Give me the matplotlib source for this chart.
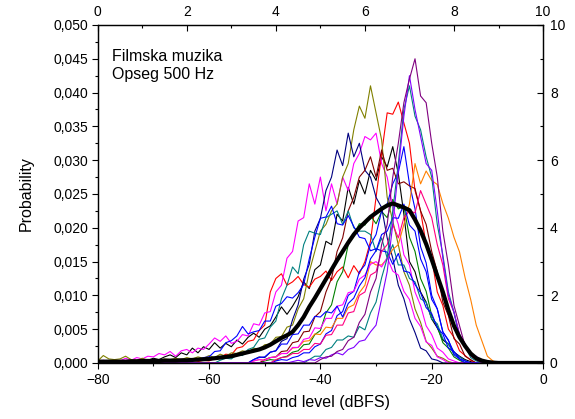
import numpy as np
import matplotlib
matplotlib.use("Agg")
import matplotlib.pyplot as plt
from matplotlib.ticker import FuncFormatter, MultipleLocator

plt.rcParams["font.family"] = ["Liberation Sans", "DejaVu Sans"]

# Sound level axis (dBFS) and per-curve probabilities, in units of 0.001,
# listed at 1 dB steps starting from the given level (zero elsewhere).
X_MIN, X_MAX = -80, 0

BLACK_START = -75
BLACK = [0.2, 0.4, 0.2, 0.5, 0.4, 0.7, 0.5, 0.9, 1.2, 0.8,
         1.5, 1.2, 2.2, 1.5, 2.4, 2.0, 3.0, 2.2, 2.9, 2.4,
         3.4, 2.8, 3.8, 4.4, 3.8, 5.0, 5.5, 6.8, 8.3, 7.2,
         8.4, 9.8, 12, 11, 13.8, 14.5, 18, 17.5, 22, 21,
         26, 23.5, 27, 25, 28.5, 27, 30.5, 29, 32, 28,
         22, 15, 13.5, 10.5, 9, 6.5, 5.2, 3.4, 2.8, 1.6,
         1.0, 0.5, 0.2]

RED_START = -62
RED = [0.2, 0.4, 0.3, 0.7, 0.8, 1.3, 1.2, 2.2, 2.4, 3.2,
       3.4, 4.8, 5.6, 10.5, 12.5, 13.2, 11.5, 12.0, 12.8, 11.6,
       11.2, 12.4, 12.8, 13.6, 12.2, 13.5, 14.2, 12.6, 14.4, 13.2,
       15.0, 18, 24.5, 31, 37, 36.8, 38.6, 35.5, 32.5, 25.5,
       22.5, 17.5, 15.5, 10.5, 8.5, 5, 3.8, 1.8, 1.1, 0.4]

GREEN_START = -50
GREEN = [0.3, 0.5, 0.4, 0.8, 1.0, 1.6, 1.8, 2.7, 2.8, 4.2,
         4.8, 7.4, 8.6, 12, 13.5, 17.5, 19, 20.6, 20.4, 21.8,
         20.6, 22.4, 21.5, 24.2, 22.8, 23.2, 18.6, 16.5, 12.5, 10.6,
         7, 5.4, 3, 2.2, 0.9, 0.4]

BLUE_START = -48
BLUE = [0.3, 0.5, 0.4, 0.8, 1.0, 1.5, 1.5, 2.4, 2.8, 4.3,
        4.8, 7.0, 7.6, 10, 10.6, 13.5, 14.5, 17.5, 19, 22.5,
        23.5, 26.5, 28.2, 32, 26.5, 22.8, 17.2, 14.8, 10, 8.0,
        4.6, 3.3, 1.6, 0.9, 0.3]

MAGENTA_START = -80
MAGENTA = [0.2, 0.4, 0.2, 0.5, 0.3, 0.7, 0.4, 0.8, 0.6, 1.0,
           0.9, 1.4, 1.2, 1.7, 1.0, 1.8, 2.0, 1.5, 2.2, 2.0,
           2.8, 3.7, 3.2, 4.0, 2.9, 3.2, 4.2, 4.0, 5.8, 5.6,
           7.4, 7.6, 10.5, 11.5, 15.5, 16.5, 21, 21.5, 26.5, 23.5,
           27.5, 22.5, 26.5, 23.5, 27.5, 25.5, 29.5, 31, 33.5, 33,
           34, 29.5, 27.5, 23, 20.5, 16, 14.5, 10.5, 8.5, 5.5,
           4.2, 2.2, 1.6, 0.6, 0.3]

OLIVE_START = -80
OLIVE = [0.3, 1.1, 0.6, 0.5, 0.6, 1.0, 0.5, 0.4, 0.7, 0.4,
         0.5, 0.4, 0.6, 0.5, 0.7, 0.5, 0.8, 0.6, 0.9, 0.7,
         1.1, 0.8, 1.3, 1.0, 1.5, 1.4, 1.8, 1.6, 2.2, 2.0,
         2.7, 2.8, 3.8, 3.9, 5.3, 5.6, 8, 9.5, 13.5, 16.5,
         19.5, 20.5, 22.5, 23.5, 27.5, 29.5, 34.5, 38, 36.2, 41,
         37, 33, 24.5, 21, 17.5, 13.5, 11.5, 8, 6, 3.2,
         2.2, 1.0, 0.7, 0.2]

NAVY_START = -52
NAVY = [0.5, 0.9, 0.8, 1.6, 1.8, 3.2, 3.6, 6.4, 8.6, 12.4,
        14.6, 19.5, 21.4, 25.5, 27.5, 31.5, 29.2, 34, 30.5, 32.5,
        28.5, 27.5, 24.5, 23, 18.5, 15.5, 11.5, 9.5, 6.5, 4.5,
        2.2, 1.8, 0.6, 0.4]

WINE_START = -50
WINE = [0.5, 0.8, 0.9, 1.7, 1.8, 3.0, 3.2, 4.6, 4.7, 6.8,
        7.6, 10.5, 12.5, 16.5, 18.5, 22.5, 24.5, 27.5, 28.5, 30.5,
        27.5, 31.5, 28.5, 28.8, 26.5, 26.8, 26.2, 25.8, 22.5, 20.5,
        16.5, 13.5, 9, 7, 3.6, 2.8, 1.0, 0.5]

TEAL2_START = -58
TEAL2 = [0.4, 0.7, 0.6, 1.2, 1.1, 2.0, 2.3, 3.5, 3.7, 5.3,
         6.2, 9.5, 11.5, 14.2, 13.2, 17.5, 19.5, 19.2, 19.0, 21.5,
         22, 22.5, 20.5, 22.5, 20, 19.5, 19.5, 19, 16.5, 18.5,
         15.5, 17.5, 14.5, 14.5, 12.5, 12, 9.5, 9, 6.5, 5.8,
         3.6, 2.8, 1.3, 0.9, 0.3]

BLUE2_START = -64
BLUE2 = [0.3, 0.5, 0.4, 0.8, 0.9, 1.7, 1.8, 3.0, 3.3, 4.0,
         5.4, 4.3, 4.6, 4.8, 6.2, 6.2, 8.4, 8.8, 9.8, 9.6,
         10.4, 11.6, 15.4, 18.6, 21.4, 21.6, 23.2, 20.6, 20.4, 21.8,
         20.2, 18.6, 18.4, 16.6, 16.9, 16.6, 16.4, 14.6, 16.2, 13.6,
         13.4, 11.6, 10.4, 8.2, 7.3, 5.2, 4.3, 2.2, 1.7, 0.6, 0.3]

ORANGE_START = -52
ORANGE = [0.3, 0.5, 0.4, 0.8, 0.9, 1.4, 1.4, 2.2, 2.3, 3.2,
          3.3, 4.3, 4.2, 5.3, 5.2, 6.6, 6.6, 8.2, 8.6, 10.4,
          11.5, 15, 14.5, 14.5, 15.4, 16.8, 17.5, 20.5, 23.5, 29.5,
          26.5, 28.4, 27, 26.4, 23.6, 21.4, 18.6, 16.4, 12.6, 9.4,
          5.6, 3.3, 1.0, 0.3]

PINK_START = -48
PINK = [0.5, 0.8, 0.9, 1.4, 1.4, 2.0, 2.0, 2.9, 2.8, 4.1,
        4.2, 5.6, 5.6, 7.4, 7.6, 10, 10.5, 13, 13.5, 16.5,
        17.5, 20.5, 18.5, 21.5, 22.5, 22.2, 25.5, 23.5, 21.5, 17.5,
        14.5, 9.5, 7.5, 4.2, 2.8, 1.0, 0.5]

MAGENTA2_START = -52
MAGENTA2 = [0.3, 0.5, 0.4, 0.8, 0.9, 1.4, 1.4, 2.3, 2.3, 3.5,
            3.7, 5.2, 5.1, 6.6, 6.6, 8.4, 8.6, 10.4, 10.6, 12.4,
            13, 14.6, 15, 14.2, 15.6, 13.6, 13, 10.6, 9.4, 6.6,
            5.4, 3.1, 2.6, 0.9, 0.5]

BLUE3_START = -52
BLUE3 = [0.5, 0.8, 0.9, 1.6, 1.8, 2.8, 2.8, 4.2, 4.3, 5.6,
         5.6, 6.9, 6.8, 7.6, 7.4, 8.4, 6.8, 8.8, 9.6, 11.4,
         12.6, 15.4, 16.6, 19, 19.5, 21.5, 21.4, 23.5, 20.4, 19.5,
         15.4, 13.5, 9.4, 8, 4.6, 3.4, 1.2, 0.6]

TEAL_START = -42
TEAL = [0.5, 1.0, 1.0, 2.0, 2.3, 3.4, 3.4, 4.0, 3.8, 5.4,
        4.9, 7.4, 9, 12.6, 15.5, 22.5, 29.5, 37.5, 41, 36.5,
        34.5, 30.5, 27.5, 20.5, 16, 10.5, 7.5, 3.6, 2.5, 0.8, 0.3]

VIOLET_START = -45
VIOLET = [0.2, 0.4, 0.2, 0.5, 0.4, 0.8, 0.7, 1.2, 1.5, 1.2,
          2.0, 2.3, 3.2, 3.4, 4.6, 5.6, 9.5, 13.5, 20.5, 28.5,
          36.5, 42.5, 37.5, 33.5, 29.5, 28.5, 22.5, 15.5, 10, 7.5,
          4.2, 2.8, 1.2, 1.0, 0.3]

PURPLE_START = -40
PURPLE = [0.5, 0.9, 1.0, 1.7, 2.0, 3.3, 3.8, 6.0, 7.2, 10.5,
          12.5, 17.5, 20.5, 27.5, 32.5, 38.5, 42, 45, 39.5, 38.5,
          32.5, 27.5, 19.5, 14.5, 8.5, 5.5, 2.5, 1.5, 0.5]

MEAN_START = -80
MEAN = [0.2, 0.2, 0.2, 0.2, 0.2, 0.2, 0.25, 0.25, 0.3, 0.3,
        0.3, 0.3, 0.35, 0.35, 0.35, 0.4, 0.4, 0.45, 0.5, 0.55,
        0.6, 0.7, 0.8, 0.9, 1.0, 1.2, 1.4, 1.6, 1.8, 2.0,
        2.3, 2.7, 3.2, 3.7, 4.1, 4.6, 5.6, 6.8, 8.3, 9.6,
        11.0, 12.4, 13.8, 15.2, 16.5, 17.8, 19.0, 20.0, 20.8, 21.6,
        22.2, 22.8, 23.3, 23.6, 23.3, 23.0, 22.6, 21.2, 19.6, 17.6,
        15.3, 12.9, 10.5, 7.8, 5.5, 3.8, 2.5, 1.4, 0.7, 0.35,
        0.15, 0.05, 0, 0, 0, 0, 0, 0, 0, 0, 0]

# draw order (later ones on top), colours as in the Origin default palette
SERIES = [
    (BLACK_START, BLACK, "#000000"),
    (RED_START, RED, "#FF0000"),
    (GREEN_START, GREEN, "#008000"),
    (BLUE_START, BLUE, "#0000FF"),
    (MAGENTA_START, MAGENTA, "#FF00FF"),
    (OLIVE_START, OLIVE, "#808000"),
    (NAVY_START, NAVY, "#000080"),
    (WINE_START, WINE, "#800000"),
    (TEAL2_START, TEAL2, "#008080"),
    (BLUE2_START, BLUE2, "#0000FF"),
    (ORANGE_START, ORANGE, "#FF8000"),
    (PINK_START, PINK, "#FF0080"),
    (MAGENTA2_START, MAGENTA2, "#FF00FF"),
    (BLUE3_START, BLUE3, "#0000FF"),
    (TEAL_START, TEAL, "#008080"),
    (VIOLET_START, VIOLET, "#8000FF"),
    (PURPLE_START, PURPLE, "#800080"),
]


def full_curve(start, vals):
    # extend with zeros over the whole -80..0 range
    x = np.arange(X_MIN, X_MAX + 1)
    y = np.zeros(len(x))
    i0 = start - X_MIN
    y[i0:i0 + len(vals)] = vals
    return x, y * 1e-3


comma = FuncFormatter(lambda v, p: f"{v:.3f}".replace(".", ","))
TICK_FS = 10

fig = plt.figure(figsize=(5.75, 4.19), dpi=100)
ax = fig.add_axes([0.170, 0.1337, 0.7744, 0.8067])

for start, vals, color in SERIES:
    x, y = full_curve(start, vals)
    ax.plot(x, y, color=color, lw=0.8)

x, y = full_curve(MEAN_START, MEAN)
ax.plot(x, y, color="black", lw=3.0, solid_joinstyle="round", zorder=5)

ax.set_xlim(X_MIN, X_MAX)
ax.set_ylim(0, 0.050)
ax.xaxis.set_major_locator(MultipleLocator(20))
ax.xaxis.set_minor_locator(MultipleLocator(10))
ax.yaxis.set_major_locator(MultipleLocator(0.005))
ax.yaxis.set_minor_locator(MultipleLocator(0.0025))
ax.yaxis.set_major_formatter(comma)
ax.tick_params(which="major", direction="out", length=4.5, width=0.8,
               labelsize=TICK_FS, pad=2.5)
ax.tick_params(which="minor", direction="out", length=2.5, width=0.8)
for s in ax.spines.values():
    s.set_linewidth(0.9)

ax.set_xlabel("Sound level (dBFS)", fontsize=11.5, labelpad=6)
ax.set_ylabel("Probability", fontsize=11.5, labelpad=14)

# top axis 0..10
top = ax.twiny()
top.set_xlim(0, 10)
top.xaxis.set_major_locator(MultipleLocator(2))
top.xaxis.set_minor_locator(MultipleLocator(1))
top.tick_params(axis="x", which="major", direction="in", length=4.5, width=0.8,
                labelsize=TICK_FS, pad=4)
top.tick_params(axis="x", which="minor", direction="in", length=2.5, width=0.8)

# right axis 0..10
right = ax.twinx()
right.set_ylim(0, 10)
right.yaxis.set_major_locator(MultipleLocator(2))
right.yaxis.set_minor_locator(MultipleLocator(1))
right.tick_params(axis="y", which="major", direction="in", length=4.5, width=0.8,
                  labelsize=TICK_FS, pad=5)
right.tick_params(axis="y", which="minor", direction="in", length=2.5, width=0.8)

ax.text(0.033, 0.928, "Filmska muzika\nOpseg 500 Hz", transform=ax.transAxes,
        ha="left", va="top", fontsize=11.5, linespacing=1.2)

fig.savefig("out.png", dpi=100)
